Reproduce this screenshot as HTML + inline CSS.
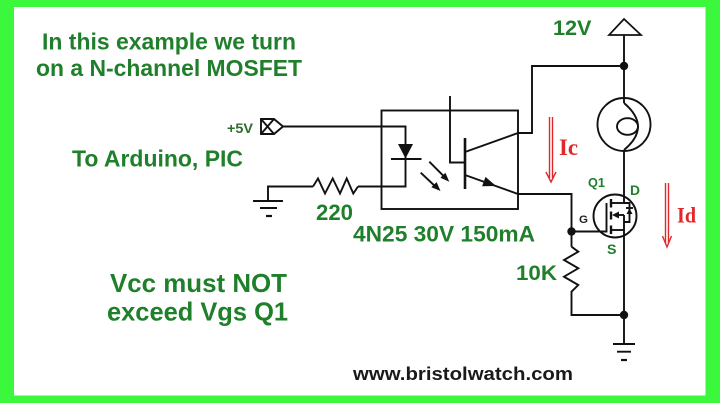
<!DOCTYPE html>
<html>
<head>
<meta charset="utf-8">
<style>
html,body{margin:0;padding:0;background:#3cf83c;}
svg{display:block;}
.g{font-family:"Liberation Sans",Arial,sans-serif;font-weight:bold;fill:#1f7f2b;}
.r{font-family:"Liberation Serif","Times New Roman",serif;font-weight:bold;fill:#e0282a;}
.w{fill:none;stroke:#111;stroke-width:1.9;stroke-linejoin:miter;}
</style>
</head>
<body>
<svg width="720" height="403" viewBox="0 0 720 403" xmlns="http://www.w3.org/2000/svg">
<rect x="0" y="0" width="720" height="403" fill="#3cf83c"/>
<rect x="14" y="7" width="691.5" height="388.5" fill="#ffffff"/>

<!-- Texts -->
<text class="g" x="42" y="49.3" font-size="23" textLength="254" lengthAdjust="spacingAndGlyphs">In this example we turn</text>
<text class="g" x="36" y="76" font-size="23" textLength="266" lengthAdjust="spacingAndGlyphs">on a N-channel MOSFET</text>
<text class="g" x="72" y="166.5" font-size="23" textLength="171" lengthAdjust="spacingAndGlyphs">To Arduino, PIC</text>
<text class="g" x="110" y="292" font-size="26" textLength="177" lengthAdjust="spacingAndGlyphs">Vcc must NOT</text>
<text class="g" x="107" y="320.5" font-size="26" textLength="181" lengthAdjust="spacingAndGlyphs">exceed Vgs Q1</text>
<text class="g" x="227" y="133" font-size="14" textLength="26" lengthAdjust="spacingAndGlyphs" style="fill:#2c6e2c">+5V</text>
<text class="g" x="316" y="220" font-size="22" textLength="37" lengthAdjust="spacingAndGlyphs">220</text>
<text class="g" x="353" y="241.5" font-size="22.5" textLength="182" lengthAdjust="spacingAndGlyphs">4N25 30V 150mA</text>
<text class="g" x="516" y="280" font-size="21" textLength="41" lengthAdjust="spacingAndGlyphs">10K</text>
<text class="g" x="553" y="35" font-size="21" textLength="38.5" lengthAdjust="spacingAndGlyphs">12V</text>
<text class="g" x="588" y="187" font-size="13" textLength="17" lengthAdjust="spacingAndGlyphs">Q1</text>
<text class="g" x="630" y="195" font-size="14" textLength="10" lengthAdjust="spacingAndGlyphs">D</text>
<text class="g" x="607" y="254" font-size="14" textLength="9.5" lengthAdjust="spacingAndGlyphs">S</text>
<text x="579" y="223" font-size="11" font-family="Liberation Sans,Arial,sans-serif" font-weight="bold" fill="#222" textLength="9" lengthAdjust="spacingAndGlyphs">G</text>
<text x="353" y="380" font-size="18.5" font-family="Liberation Sans,Arial,sans-serif" font-weight="bold" fill="#1a1a1a" textLength="220" lengthAdjust="spacingAndGlyphs">www.bristolwatch.com</text>
<text class="r" x="559" y="155" font-size="23" textLength="19" lengthAdjust="spacingAndGlyphs">Ic</text>
<text class="r" x="677" y="222.5" font-size="22" textLength="19" lengthAdjust="spacingAndGlyphs">Id</text>

<!-- Current arrows -->
<g stroke="#e0282a" stroke-width="1.4" fill="none">
  <line x1="549.5" y1="117" x2="549.5" y2="178"/>
  <line x1="552.5" y1="117" x2="552.5" y2="178"/>
  <polyline points="546,172 551,182 556,172"/>
  <line x1="665.5" y1="183" x2="665.5" y2="243"/>
  <line x1="668.5" y1="183" x2="668.5" y2="243"/>
  <polyline points="662.5,236 667,247 671.5,236"/>
</g>

<!-- +5V connector -->
<g class="w" stroke-width="1.7">
  <path d="M261 119 L274 119 L283 126.5 L274 134 L261 134 Z"/>
  <line x1="261" y1="119" x2="274" y2="134"/>
  <line x1="274" y1="119" x2="261" y2="134"/>
</g>

<!-- Left wires -->
<g class="w">
  <polyline points="283,126.5 405.5,126.5 405.5,186.5 358,186.5"/>
  <polyline points="313,186.5 268,186.5 268,201"/>
  <polyline points="313,186.5 318,178.5 325,193.5 332.7,178.5 340,193.5 346.7,178.5 353.3,193.5 358,186.5"/>
  <line x1="253" y1="201" x2="283" y2="201"/>
  <line x1="260" y1="208" x2="277" y2="208"/>
  <line x1="266" y1="216" x2="272" y2="216" stroke-width="2.2"/>
</g>

<!-- Optocoupler box -->
<rect x="381.5" y="110.5" width="136.5" height="98.5" class="w"/>
<!-- LED -->
<polygon points="398,144 413,144 405.5,158.5" fill="#111"/>
<line x1="391" y1="159" x2="421.5" y2="159" class="w"/>
<!-- light arrows -->
<g class="w" stroke-width="1.7">
  <line x1="429.3" y1="161.7" x2="446" y2="178.4"/>
  <line x1="420.7" y1="172.7" x2="437" y2="188"/>
</g>
<polygon points="449.3,181.7 445.4,172.8 440.4,177.8" fill="#111"/>
<polygon points="440.5,191 436.6,182.1 431.3,187.1" fill="#111"/>
<!-- phototransistor -->
<g class="w">
  <polyline points="450,96 450,162.5 465,162.5"/>
  <line x1="465" y1="138" x2="465" y2="189" stroke-width="2.6"/>
  <polyline points="465,152 518,133 532,133 532,66 624,66"/>
  <polyline points="465,175 518,194 571.5,194 571.5,246.7"/>
</g>
<polygon points="496,186 485.5,176.9 482.1,186.3" fill="#111"/>

<!-- 12V supply -->
<g class="w">
  <polygon points="624,19 609,35 641,35" stroke-width="1.7"/>
  <line x1="624" y1="35" x2="624" y2="98"/>
</g>
<circle cx="624" cy="66" r="4.2" fill="#111"/>

<!-- Lamp -->
<g class="w" stroke-width="1.7">
  <circle cx="624" cy="124.5" r="26.5"/>
  <line x1="624" y1="98" x2="624" y2="103"/>
  <path d="M624 103 Q652 126.7 624 150"/>
  <ellipse cx="627.5" cy="126.5" rx="10.5" ry="8.3"/>
  <line x1="624" y1="150" x2="624" y2="203"/>
</g>

<!-- MOSFET -->
<g class="w" stroke-width="1.7">
  <circle cx="615" cy="216" r="21.5"/>
  <polyline points="571.5,231.5 606.5,231.5 606.5,203"/>
  <polyline points="611,203 624,203"/>
  <polyline points="611,230 624,230"/>
  <line x1="618" y1="215" x2="624" y2="215"/>
  <line x1="624" y1="215" x2="624" y2="315"/>
  <polyline points="624,203 629.5,203 629.5,222 624,222"/>
  <line x1="626" y1="208" x2="633" y2="208"/>
</g>
<g stroke="#111" stroke-width="2.4">
  <line x1="611" y1="199" x2="611" y2="207.5"/>
  <line x1="611" y1="211.5" x2="611" y2="219.5"/>
  <line x1="611" y1="225.5" x2="611" y2="234"/>
</g>
<polygon points="612,215 619,211.5 619,218.5" fill="#111"/>
<polygon points="629.5,208.5 626.5,214 632.5,214" fill="#111"/>

<!-- 10K resistor and return -->
<g class="w">
  <polyline points="571.5,246.7 578.3,251.7 564,260 578.3,268.3 564,276.7 578.3,285 571.5,291.7 571.5,315 624,315"/>
  <line x1="624" y1="315" x2="624" y2="344"/>
  <line x1="613" y1="344" x2="635" y2="344"/>
  <line x1="617" y1="351.7" x2="631" y2="351.7"/>
  <line x1="621" y1="360" x2="627" y2="360" stroke-width="2.2"/>
</g>
<circle cx="571.5" cy="231.5" r="4.2" fill="#111"/>
<circle cx="624" cy="315" r="4.2" fill="#111"/>
</svg>
</body>
</html>
